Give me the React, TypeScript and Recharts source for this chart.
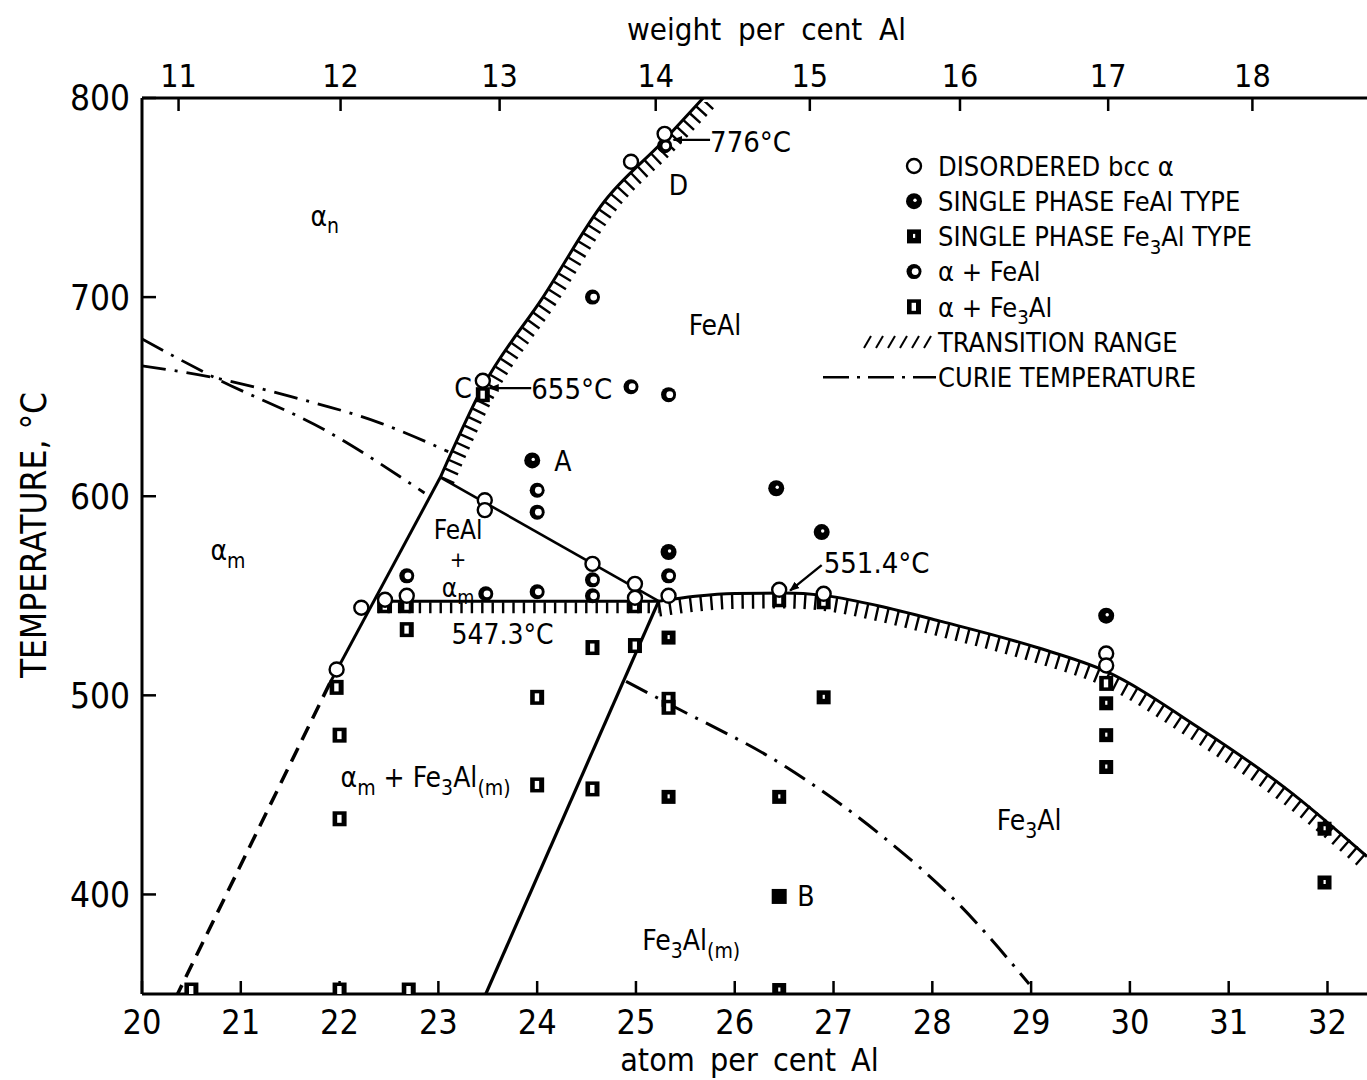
import React from 'react';
import { ComposedChart, Line, Scatter, XAxis, YAxis, Legend, Label } from 'recharts';

const FONT = "'DejaVu Sans Condensed', 'Liberation Sans Narrow', 'DejaVu Sans', sans-serif";

// ---- axes ----
const atomTicks = [20, 21, 22, 23, 24, 25, 26, 27, 28, 29, 30, 31, 32];
const tempTicks = [400, 500, 600, 700, 800];
const weightTickAtom = [20.37, 22.01, 23.62, 25.2, 26.76, 28.28, 29.78, 31.24];
const weightTickLabels = ['11', '12', '13', '14', '15', '16', '17', '18'];

// ---- phase boundaries (atom % Al, °C) ----
const orderBoundaryUpper = [
  { x: 23.02, t: 609.5 }, { x: 23.45, t: 655 }, { x: 24.06, t: 700 },
  { x: 24.68, t: 748 }, { x: 25.27, t: 778 }, { x: 25.68, t: 800 },
];
const alphaBoundarySolid = [{ x: 23.02, t: 609.5 }, { x: 21.9, t: 506 }];
const alphaBoundaryDashed = [{ x: 21.9, t: 506 }, { x: 20.36, t: 350 }];
const fe3alBoundary = [{ x: 23.48, t: 350 }, { x: 25.23, t: 547.3 }];
const eutectoid = [{ x: 22.38, t: 547.3 }, { x: 25.23, t: 547.3 }];
const fealSolvus = [{ x: 23.02, t: 609.5 }, { x: 25.23, t: 547.3 }];
const fe3alDome = [
  { x: 25.23, t: 547.3 }, { x: 25.6, t: 549.8 }, { x: 26.0, t: 551.2 }, { x: 26.5, t: 551.4 },
  { x: 26.9, t: 550.2 }, { x: 27.45, t: 545 }, { x: 28.1, t: 537 }, { x: 29.06, t: 524 },
  { x: 29.76, t: 512 }, { x: 30.69, t: 484 }, { x: 31.61, t: 452 }, { x: 32.4, t: 419 },
];
const curieUpperA = [{ x: 20, t: 679 }, { x: 20.74, t: 659.4 }, { x: 21.86, t: 633 }, { x: 22.86, t: 601.6 }];
const curieUpperB = [{ x: 20, t: 665.5 }, { x: 20.74, t: 659.4 }, { x: 21.51, t: 650 }, { x: 22.42, t: 636.6 }, { x: 23.1, t: 622.4 }];
const curieLower = [
  { x: 24.9, t: 507 }, { x: 25.32, t: 496 }, { x: 26.52, t: 464 },
  { x: 27.45, t: 431 }, { x: 28.29, t: 394 }, { x: 28.98, t: 355 },
];
const arrow655 = [{ x: 23.94, t: 654.3 }, { x: 23.52, t: 654.3 }];
const arrow776 = [{ x: 25.75, t: 779 }, { x: 25.38, t: 779 }];
const arrow551 = [{ x: 26.88, t: 565.4 }, { x: 26.56, t: 552.6 }];

// ---- experimental points ----
const disorderedPts = [
  { x: 25.29, t: 782 }, { x: 24.95, t: 768 }, { x: 23.45, t: 658 }, { x: 23.47, t: 598 }, { x: 23.47, t: 593 },
  { x: 24.56, t: 566 }, { x: 24.99, t: 556 }, { x: 24.99, t: 549 }, { x: 25.33, t: 550 }, { x: 22.68, t: 550 },
  { x: 22.46, t: 548 }, { x: 22.22, t: 544 }, { x: 21.97, t: 513 }, { x: 26.45, t: 553 }, { x: 26.9, t: 551 },
  { x: 29.76, t: 521 }, { x: 29.76, t: 515 },
];
const fealPts = [
  { x: 23.95, t: 618 }, { x: 26.42, t: 604 }, { x: 26.88, t: 582 }, { x: 29.76, t: 540 }, { x: 25.33, t: 572 },
];
const alphaFealPts = [
  { x: 24.56, t: 700 }, { x: 24.95, t: 655 }, { x: 25.33, t: 651 }, { x: 24.0, t: 603 }, { x: 24.0, t: 592 },
  { x: 25.33, t: 560 }, { x: 24.56, t: 558 }, { x: 24.56, t: 550 }, { x: 24.0, t: 552 }, { x: 23.48, t: 551 },
  { x: 22.68, t: 560 }, { x: 25.29, t: 776 },
];
const fe3alPts = [
  { x: 25.33, t: 529 }, { x: 25.33, t: 449 }, { x: 26.45, t: 449 }, { x: 26.45, t: 352 }, { x: 26.9, t: 499 },
  { x: 29.76, t: 496 }, { x: 29.76, t: 480 }, { x: 29.76, t: 464 }, { x: 31.97, t: 433 }, { x: 31.97, t: 406 },
];
const fe3alSolidPts = [{ x: 26.45, t: 399 }];
const alphaFe3alPts = [
  { x: 23.45, t: 651 }, { x: 21.97, t: 504 }, { x: 22.0, t: 480 }, { x: 22.0, t: 438 }, { x: 22.68, t: 533 },
  { x: 24.0, t: 499 }, { x: 24.0, t: 455 }, { x: 24.56, t: 524 }, { x: 24.56, t: 453 }, { x: 24.99, t: 525 },
  { x: 25.33, t: 498 }, { x: 25.33, t: 494 }, { x: 20.5, t: 352 }, { x: 22.0, t: 352 }, { x: 22.7, t: 352 },
  { x: 22.46, t: 545 }, { x: 22.68, t: 545 }, { x: 24.99, t: 545 }, { x: 26.45, t: 548 }, { x: 26.9, t: 547 },
  { x: 29.76, t: 506 },
];

// ---- annotations ----
const regionLabels = [
  { x: 21.85, t: 741, text: 'α_{n}' },
  { x: 20.87, t: 573, text: 'α_{m}' },
  { x: 25.8, t: 686, text: 'FeAl' },
  { x: 23.65, t: 531, text: '547.3°C' },
  { x: 23.25, t: 654.3, text: 'C' },
  { x: 25.43, t: 756.3, text: 'D' },
  { x: 24.26, t: 617.7, text: 'A' },
  { x: 26.72, t: 399.2, text: 'B' },
  { x: 22.87, t: 459, text: 'α_{m} + Fe_{3}Al_{(m)}' },
  { x: 28.98, t: 437.4, text: 'Fe_{3}Al' },
  { x: 25.56, t: 377, text: 'Fe_{3}Al_{(m)}' },
];
const stackedLabels = [
  { x: 23.2, t: 583, text: 'FeAl' },
  { x: 23.2, t: 554, text: 'α_{m}' },
];
const plusLabels = [{ x: 23.2, t: 568.5, text: '+' }];
const arrowLabels = [
  { x: 23.94, t: 654.3, text: '655°C' },
  { x: 25.75, t: 778, text: '776°C' },
  { x: 26.9, t: 566.5, text: '551.4°C' },
];

const legendRows = [
  { kind: 'open', label: 'DISORDERED bcc α' },
  { kind: 'feal', label: 'SINGLE PHASE FeAl TYPE' },
  { kind: 'fe3al', label: 'SINGLE PHASE Fe_{3}Al TYPE' },
  { kind: 'afeal', label: 'α + FeAl' },
  { kind: 'afe3al', label: 'α + Fe_{3}Al' },
  { kind: 'hatch', label: 'TRANSITION RANGE' },
  { kind: 'curie', label: 'CURIE TEMPERATURE' },
];

// ---- helpers ----
const parseRich = (s: string) => {
  const out: { t: string; sub: boolean }[] = [];
  const re = /_\{([^}]*)\}/g;
  let last = 0;
  let m: RegExpExecArray | null;
  while ((m = re.exec(s))) {
    if (m.index > last) out.push({ t: s.slice(last, m.index), sub: false });
    out.push({ t: m[1], sub: true });
    last = m.index + m[0].length;
  }
  if (last < s.length) out.push({ t: s.slice(last), sub: false });
  return out;
};

const RichText = ({ x, y, text, size, anchor = 'middle' }: any) => {
  const parts = parseRich(text);
  const shift = size * 0.28;
  let cur = 0;
  return (
    <text x={x} y={y + size * 0.36} textAnchor={anchor} fontSize={size} fontFamily={FONT} fill="#000">
      {parts.map((p, i) => {
        const target = p.sub ? shift : 0;
        const dy = target - cur;
        cur = target;
        return (
          <tspan key={i} dy={dy} fontSize={p.sub ? size * 0.75 : size}>{p.t}</tspan>
        );
      })}
    </text>
  );
};

const OpenCircle = ({ cx, cy }: any) => <circle cx={cx} cy={cy} r={7} fill="#fff" stroke="#000" strokeWidth={2.4} />;
const FealDot = ({ cx, cy }: any) => (
  <g><circle cx={cx} cy={cy} r={8} fill="#000" /><circle cx={cx + 1} cy={cy - 1} r={1.7} fill="#fff" /></g>
);
const AlphaFealDot = ({ cx, cy }: any) => (
  <g><circle cx={cx} cy={cy} r={7.5} fill="#000" /><circle cx={cx + 1.2} cy={cy} r={3.4} fill="#fff" /></g>
);
const Fe3alSq = ({ cx, cy }: any) => (
  <g><rect x={cx - 7} y={cy - 7} width={14} height={14} fill="#000" /><rect x={cx - 1} y={cy - 2.5} width={2.2} height={4} fill="#fff" /></g>
);
const Fe3alSolid = ({ cx, cy }: any) => <rect x={cx - 7.5} y={cy - 7.5} width={15} height={15} fill="#000" />;
const AlphaFe3alSq = ({ cx, cy }: any) => (
  <g><rect x={cx - 7} y={cy - 7.5} width={14} height={15} fill="#000" /><rect x={cx - 2.4} y={cy - 4} width={4.4} height={8} fill="#fff" /></g>
);
const RegionText = (p: any) => <RichText x={p.cx} y={p.cy} text={p.payload.text} size={28} />;
const StackText = (p: any) => <RichText x={p.cx} y={p.cy} text={p.payload.text} size={26} />;
const PlusText = (p: any) => <RichText x={p.cx} y={p.cy} text={p.payload.text} size={22} />;
const ArrowText = (p: any) => <RichText x={p.cx} y={p.cy} text={p.payload.text} size={29} anchor="start" />;

const symbolFor = (kind: string, cx: number, cy: number) => {
  switch (kind) {
    case 'open': return <OpenCircle cx={cx} cy={cy} />;
    case 'feal': return <FealDot cx={cx} cy={cy} />;
    case 'fe3al': return <Fe3alSq cx={cx} cy={cy} />;
    case 'afeal': return <AlphaFealDot cx={cx} cy={cy} />;
    case 'afe3al': return <AlphaFe3alSq cx={cx} cy={cy} />;
    case 'hatch':
      return (
        <g stroke="#000" strokeWidth={2}>
          {[0, 1, 2, 3, 4, 5].map((i) => (
            <line key={i} x1={cx - 50 + i * 12} y1={cy + 6} x2={cx - 43 + i * 12} y2={cy - 6} />
          ))}
        </g>
      );
    default:
      return (
        <line x1={3} y1={cy} x2={cx + 22} y2={cy} stroke="#000" strokeWidth={2.6} strokeDasharray="26 8 3 8" />
      );
  }
};

const LegendBox = () => (
  <svg width={500} height={250} style={{ display: 'block' }}>
    {legendRows.map((r, i) => {
      const cy = 18 + i * 35.2;
      return (
        <g key={r.kind}>
          {symbolFor(r.kind, 94, cy)}
          <RichText x={118} y={cy} text={r.label} size={27} anchor="start" />
        </g>
      );
    })}
  </svg>
);

const lineCommon = {
  xAxisId: 'atom',
  yAxisId: 'temp',
  dataKey: 't',
  type: 'linear' as const,
  dot: false,
  activeDot: false,
  isAnimationActive: false,
  legendType: 'none' as const,
  stroke: '#000',
};

export default function App() {
  return (
    <div style={{ position: 'absolute', left: 0, top: 0, width: 1367, height: 1080, background: '#fff' }}>
      <ComposedChart width={1367} height={1080} margin={{ top: 38, right: 0, bottom: 26, left: 0 }}>
        <defs>
          <marker id="arrowHead" viewBox="0 0 10 10" refX="9" refY="5" markerWidth="10" markerHeight="10" orient="auto" markerUnits="userSpaceOnUse">
            <path d="M0,1 L10,5 L0,9 z" fill="#000" />
          </marker>
        </defs>
        <XAxis
          xAxisId="atom" type="number" dataKey="x" orientation="bottom" domain={[20, 32.4]} allowDataOverflow
          ticks={atomTicks} interval={0} height={60} tickSize={-13} tickMargin={29}
          axisLine={{ stroke: '#000', strokeWidth: 3 }} tickLine={{ stroke: '#000', strokeWidth: 2.5 }}
          tick={{ fill: '#000', fontSize: 34, fontFamily: FONT }}
        >
          <Label content={(p: any) => (
            <text x={p.viewBox.x + p.viewBox.width / 2 - 5} y={p.viewBox.y + p.viewBox.height + 17}
              textAnchor="middle" fontSize={32} fontFamily={FONT} fill="#000" wordSpacing={6}>atom per cent Al</text>
          )} />
        </XAxis>
        <XAxis
          xAxisId="wt" type="number" dataKey="x" orientation="top" domain={[20, 32.4]} allowDataOverflow
          ticks={weightTickAtom} interval={0} height={60} tickSize={-13} tickMargin={24}
          tickFormatter={(v: number) => weightTickLabels[weightTickAtom.indexOf(v)]}
          axisLine={{ stroke: '#000', strokeWidth: 3 }} tickLine={{ stroke: '#000', strokeWidth: 2.5 }}
          tick={{ fill: '#000', fontSize: 32, fontFamily: FONT }}
        >
          <Label content={(p: any) => (
            <text x={p.viewBox.x + p.viewBox.width / 2 + 12} y={p.viewBox.y + 2}
              textAnchor="middle" fontSize={31} fontFamily={FONT} fill="#000" wordSpacing={8}>weight per cent Al</text>
          )} />
        </XAxis>
        <YAxis
          yAxisId="temp" type="number" dataKey="t" orientation="left" domain={[350, 800]} allowDataOverflow
          ticks={tempTicks} interval={0} width={142} tickSize={-14} tickMargin={26}
          axisLine={{ stroke: '#000', strokeWidth: 3 }} tickLine={{ stroke: '#000', strokeWidth: 2.5 }}
          tick={{ fill: '#000', fontSize: 35, fontFamily: FONT }}
        >
          <Label content={(p: any) => (
            <text x={34} y={p.viewBox.y + p.viewBox.height / 2 - 11} transform={`rotate(-90 34 ${p.viewBox.y + p.viewBox.height / 2 - 11})`}
              textAnchor="middle" dominantBaseline="central" fontSize={35} fontFamily={FONT} fill="#000">TEMPERATURE, °C</text>
          )} />
        </YAxis>
        <YAxis
          yAxisId="tempR" type="number" orientation="right" domain={[350, 800]} allowDataOverflow
          ticks={tempTicks} interval={0} width={0} tickSize={-10} tick={false}
          axisLine={false} tickLine={{ stroke: '#000', strokeWidth: 2.5 }}
        />

        {/* hatching (transition range) */}
        <Line {...lineCommon} data={orderBoundaryUpper} type="monotone" strokeWidth={14} strokeDasharray="2.4 7" transform="translate(7,4)" />
        <Line {...lineCommon} data={eutectoid} strokeWidth={11} strokeDasharray="2.4 8" transform="translate(0,6.5)" />
        <Line {...lineCommon} data={fe3alDome} type="monotone" strokeWidth={15} strokeDasharray="2.4 8" transform="translate(0,8)" />

        {/* boundaries */}
        <Line {...lineCommon} data={orderBoundaryUpper} type="monotone" strokeWidth={3} />
        <Line {...lineCommon} data={alphaBoundarySolid} strokeWidth={3} />
        <Line {...lineCommon} data={alphaBoundaryDashed} strokeWidth={3.5} strokeDasharray="15 9" />
        <Line {...lineCommon} data={fe3alBoundary} strokeWidth={3.2} />
        <Line {...lineCommon} data={eutectoid} strokeWidth={3} />
        <Line {...lineCommon} data={fealSolvus} strokeWidth={2.6} />
        <Line {...lineCommon} data={fe3alDome} type="monotone" strokeWidth={3} />

        {/* Curie temperature */}
        <Line {...lineCommon} data={curieUpperA} type="monotone" strokeWidth={2.8} strokeDasharray="24 9 3 9" />
        <Line {...lineCommon} data={curieUpperB} type="monotone" strokeWidth={2.8} strokeDasharray="24 9 3 9" />
        <Line {...lineCommon} data={curieLower} type="monotone" strokeWidth={3} strokeDasharray="24 9 3 9" />

        {/* arrows */}
        <Line {...lineCommon} data={arrow655} strokeWidth={2.2} markerEnd="url(#arrowHead)" />
        <Line {...lineCommon} data={arrow776} strokeWidth={2.2} markerEnd="url(#arrowHead)" />
        <Line {...lineCommon} data={arrow551} strokeWidth={2.4} markerEnd="url(#arrowHead)" />

        {/* points */}
        <Scatter xAxisId="atom" yAxisId="temp" dataKey="t" data={alphaFe3alPts} shape={AlphaFe3alSq} isAnimationActive={false} legendType="none" />
        <Scatter xAxisId="atom" yAxisId="temp" dataKey="t" data={fe3alPts} shape={Fe3alSq} isAnimationActive={false} legendType="none" />
        <Scatter xAxisId="atom" yAxisId="temp" dataKey="t" data={fe3alSolidPts} shape={Fe3alSolid} isAnimationActive={false} legendType="none" />
        <Scatter xAxisId="atom" yAxisId="temp" dataKey="t" data={alphaFealPts} shape={AlphaFealDot} isAnimationActive={false} legendType="none" />
        <Scatter xAxisId="atom" yAxisId="temp" dataKey="t" data={disorderedPts} shape={OpenCircle} isAnimationActive={false} legendType="none" />
        <Scatter xAxisId="atom" yAxisId="temp" dataKey="t" data={fealPts} shape={FealDot} isAnimationActive={false} legendType="none" />

        {/* text annotations */}
        <Scatter xAxisId="atom" yAxisId="temp" dataKey="t" data={regionLabels} shape={RegionText} isAnimationActive={false} legendType="none" />
        <Scatter xAxisId="atom" yAxisId="temp" dataKey="t" data={stackedLabels} shape={StackText} isAnimationActive={false} legendType="none" />
        <Scatter xAxisId="atom" yAxisId="temp" dataKey="t" data={plusLabels} shape={PlusText} isAnimationActive={false} legendType="none" />
        <Scatter xAxisId="atom" yAxisId="temp" dataKey="t" data={arrowLabels} shape={ArrowText} isAnimationActive={false} legendType="none" />

        <Legend layout="vertical" align="center" verticalAlign="middle"
          wrapperStyle={{ left: 820, top: 148, width: 500, height: 250 }}
          content={() => <LegendBox />} />
      </ComposedChart>
    </div>
  );
}
